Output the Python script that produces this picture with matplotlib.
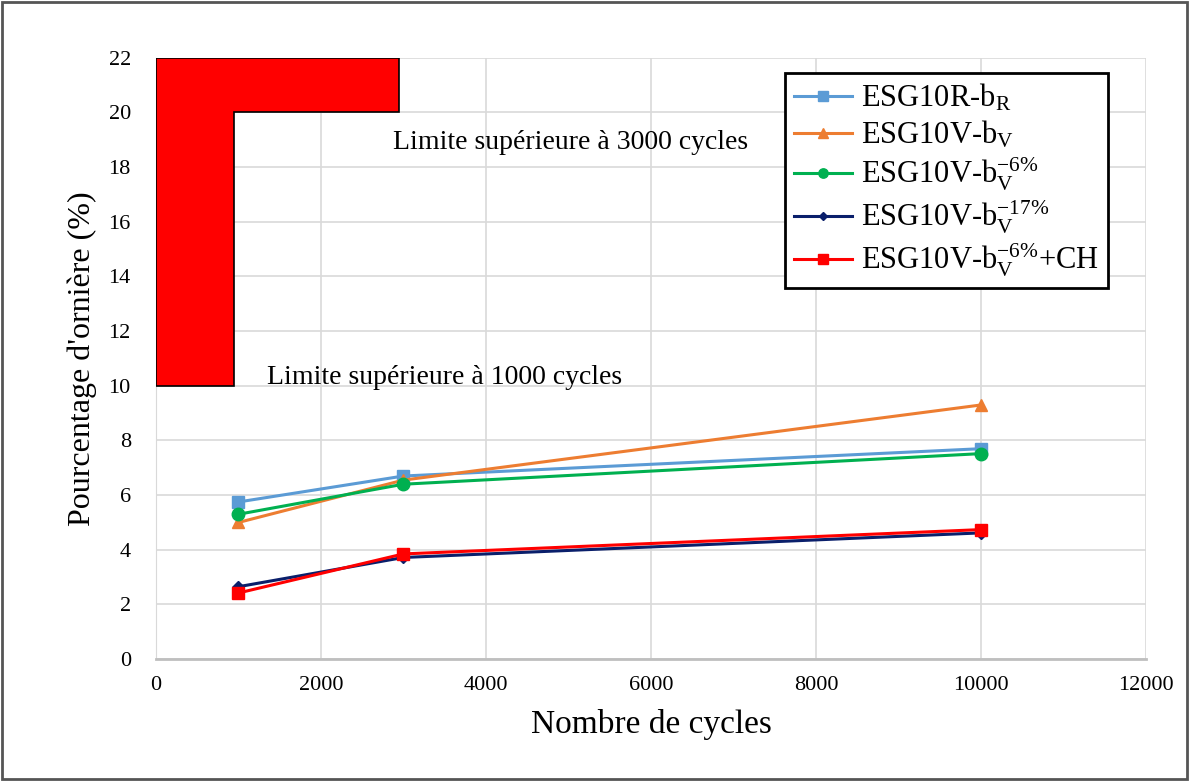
import matplotlib.pyplot as plt
from matplotlib.patches import Polygon, Rectangle

plt.rcParams['font.family'] = ['Liberation Serif', 'DejaVu Serif']
plt.rcParams['mathtext.fontset'] = 'custom'
plt.rcParams['mathtext.rm'] = 'Liberation Serif'
plt.rcParams['mathtext.it'] = 'Liberation Serif'

cycles = [1000, 3000, 10000]
esg10r_br = [5.75, 6.7, 7.7]
esg10v_bv = [5.0, 6.55, 9.3]
esg10v_bv_6 = [5.3, 6.4, 7.52]
esg10v_bv_17 = [2.65, 3.72, 4.62]
esg10v_bv_6_ch = [2.42, 3.85, 4.74]

labels = [r'ESG10R-b$_{\mathrm{R}}$',
          r'ESG10V-b$_{\mathrm{V}}$',
          r'ESG10V-b$_{\mathrm{V}}^{\mathrm{-6\%}}$',
          r'ESG10V-b$_{\mathrm{V}}^{\mathrm{-17\%}}$',
          r'ESG10V-b$_{\mathrm{V}}^{\mathrm{-6\%}}$+CH']
colors = ['#5B9BD5', '#ED7D31', '#00B050', '#0A1F6B', '#FF0000']
markers = ['s', '^', 'o', 'D', 's']
series = [esg10r_br, esg10v_bv, esg10v_bv_6, esg10v_bv_17, esg10v_bv_6_ch]

# limit zone (L shape): 10 % at 1000 cycles, 20 % at 3000 cycles
limit_x = [0, 2950, 2950, 950, 950, 0]
limit_y = [22, 22, 20, 20, 10, 10]

fig = plt.figure(figsize=(11.89, 7.81), dpi=100)
ax = fig.add_axes([0.131, 0.156, 0.833, 0.770])

ax.add_patch(Polygon(list(zip(limit_x, limit_y)), closed=True,
                     facecolor='#FF0000', edgecolor='black', linewidth=1.2, zorder=3))

for y, lab, c, m in zip(series, labels, colors, markers):
    ms = 9 if m != 'D' else 6
    ax.plot(cycles, y, color=c, marker=m, markersize=ms, linewidth=2.2,
            label=lab, zorder=4)

ax.text(2880, 18.9, 'Limite supérieure à 3000 cycles', fontsize=20, va='center')
ax.text(1350, 10.3, 'Limite supérieure à 1000 cycles', fontsize=20, va='center')

ax.set_xlim(0, 12000)
ax.set_ylim(0, 22)
ax.set_xticks(range(0, 12001, 2000))
ax.set_yticks(range(0, 23, 2))
ax.tick_params(labelsize=16, length=0, pad=12)
ax.tick_params(axis='y', pad=18)
ax.grid(True, color='#D9D9D9', linewidth=1.2)
ax.set_axisbelow(True)
for s in ['top', 'right']:
    ax.spines[s].set_visible(False)
ax.spines['left'].set_color('#D9D9D9')
ax.spines['bottom'].set_color('#BFBFBF')
ax.spines['bottom'].set_linewidth(2)

ax.set_xlabel('Nombre de cycles', fontsize=24, labelpad=10)
ax.set_ylabel("Pourcentage d'ornière (%)", fontsize=23, labelpad=8)

leg = ax.legend(loc='upper right', bbox_to_anchor=(0.977, 1.0), fontsize=22,
                frameon=True, fancybox=False, edgecolor='black',
                handlelength=1.9, handletextpad=0.3, labelspacing=0.18,
                borderpad=0.3, markerscale=0.75)
leg.get_frame().set_linewidth(2)
leg.get_frame().set_alpha(1)

fig.add_artist(Rectangle((0.002, 0.003), 0.996, 0.994, transform=fig.transFigure,
                         fill=False, edgecolor='#555555', linewidth=2))

fig.savefig('out.png', dpi=100)
